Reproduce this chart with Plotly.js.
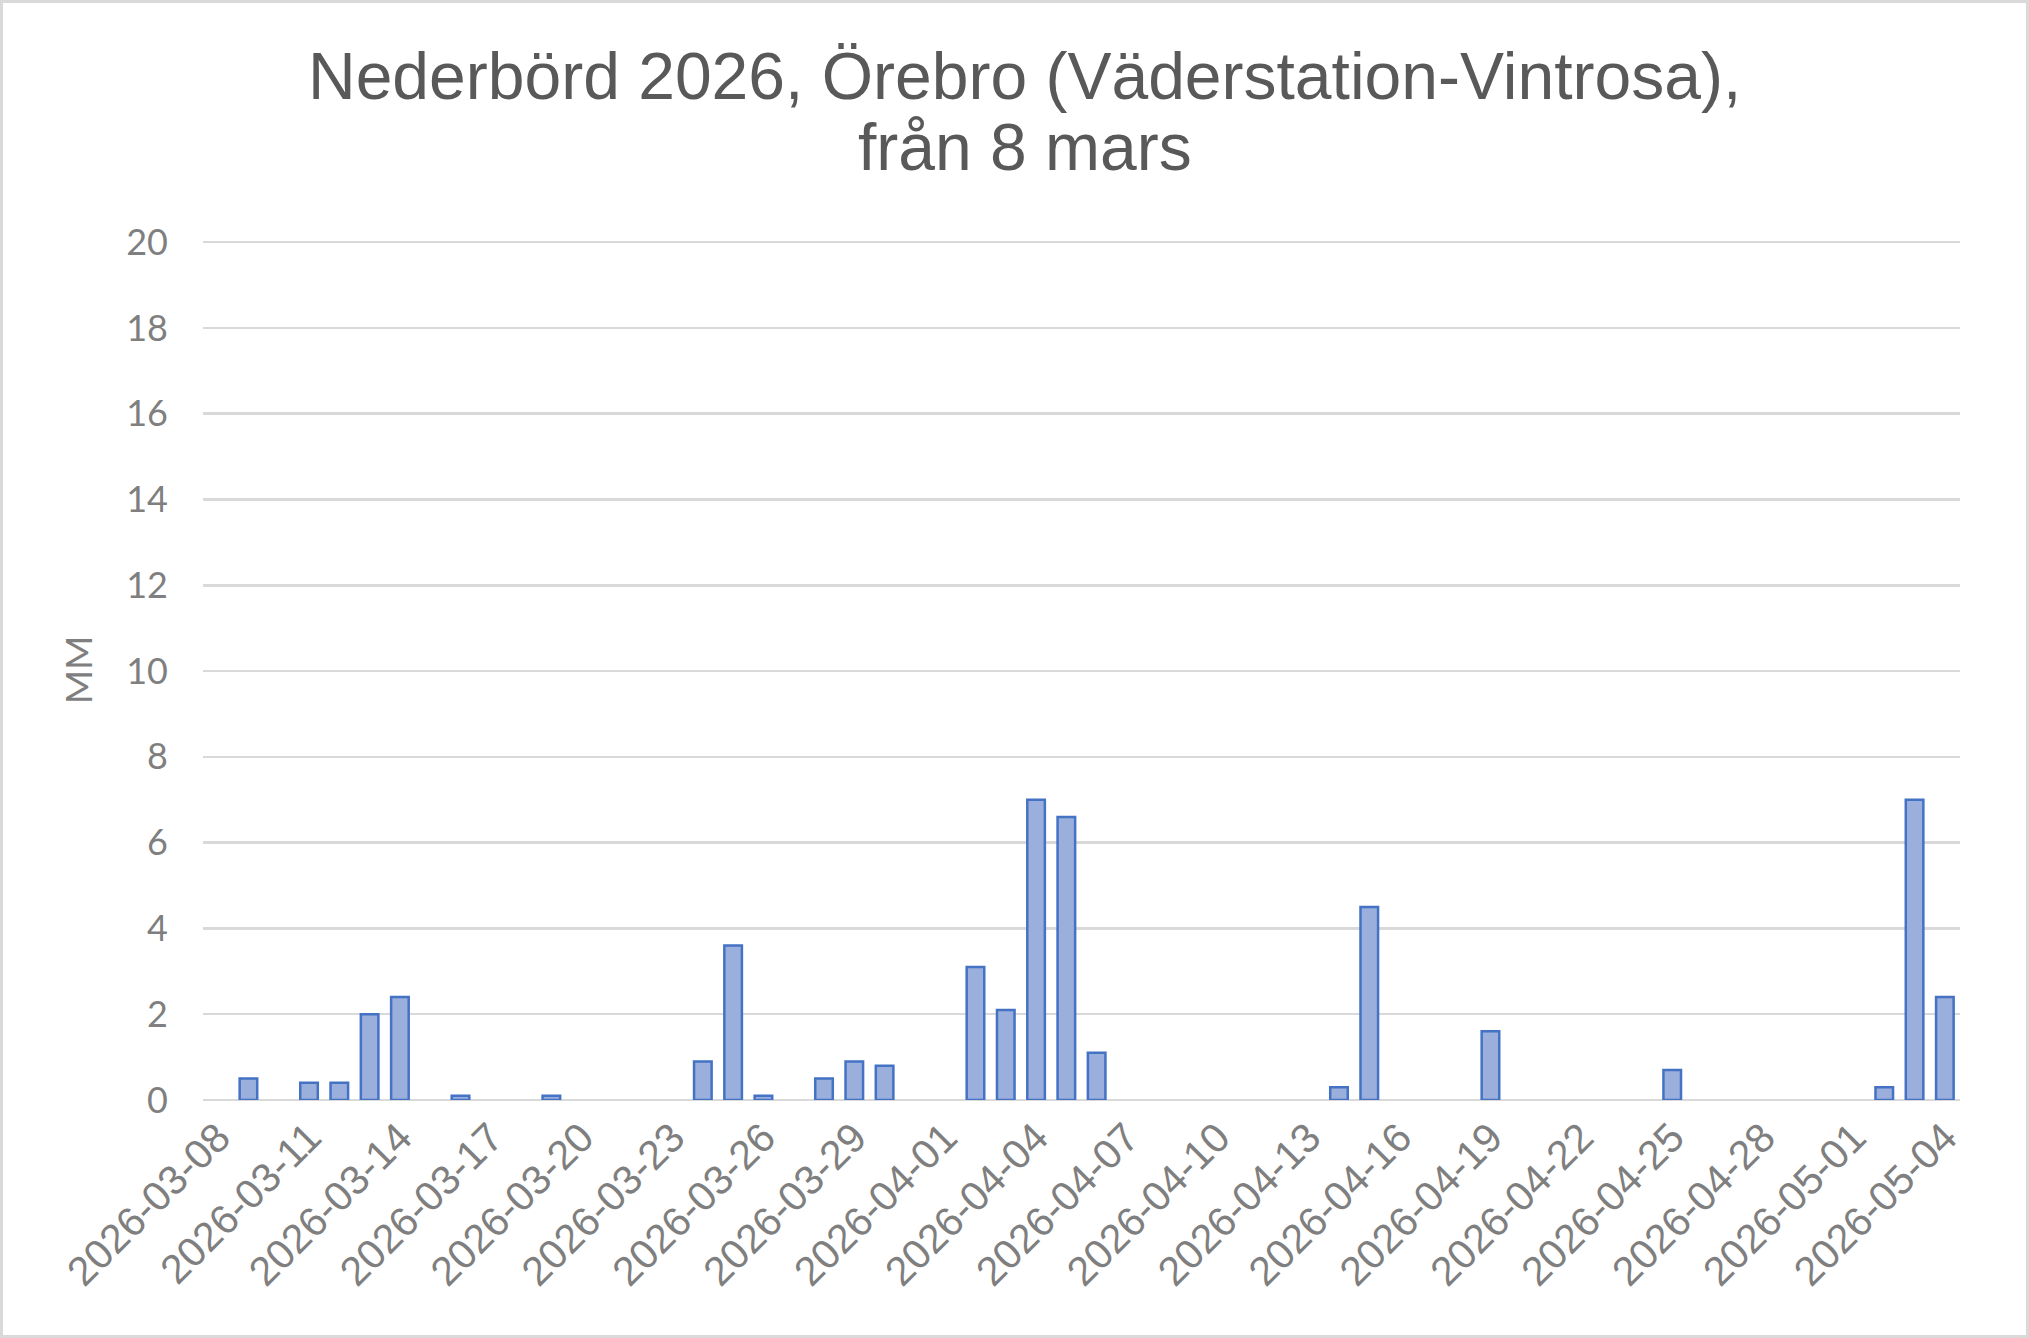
<!DOCTYPE html>
<html>
<head>
<meta charset="utf-8">
<script src="https://cdn.plot.ly/plotly-3.0.1.min.js"></script>
<style>
  body { margin: 0; background: #fff; }
  #myDiv { width: 2029px; height: 1338px; box-sizing: border-box; border: 3px solid #d9d9d9; }
</style>
</head>
<body>
<div id="myDiv"></div>
<script>
// one entry per day, 8 mars - 4 maj
let dates = [
  '2026-03-08','2026-03-09','2026-03-10','2026-03-11','2026-03-12','2026-03-13','2026-03-14',
  '2026-03-15','2026-03-16','2026-03-17','2026-03-18','2026-03-19','2026-03-20','2026-03-21',
  '2026-03-22','2026-03-23','2026-03-24','2026-03-25','2026-03-26','2026-03-27','2026-03-28',
  '2026-03-29','2026-03-30','2026-03-31','2026-04-01','2026-04-02','2026-04-03','2026-04-04',
  '2026-04-05','2026-04-06','2026-04-07','2026-04-08','2026-04-09','2026-04-10','2026-04-11',
  '2026-04-12','2026-04-13','2026-04-14','2026-04-15','2026-04-16','2026-04-17','2026-04-18',
  '2026-04-19','2026-04-20','2026-04-21','2026-04-22','2026-04-23','2026-04-24','2026-04-25',
  '2026-04-26','2026-04-27','2026-04-28','2026-04-29','2026-04-30','2026-05-01','2026-05-02',
  '2026-05-03','2026-05-04'
];

// nederbörd i mm
let rain = [
  0, 0.5, 0, 0.4, 0.4, 2.0, 2.4,
  0, 0.1, 0, 0, 0.1, 0, 0,
  0, 0, 0.9, 3.6, 0.1, 0, 0.5,
  0.9, 0.8, 0, 0, 3.1, 2.1, 7.0,
  6.6, 1.1, 0, 0, 0, 0, 0,
  0, 0, 0.3, 4.5, 0, 0, 0,
  1.6, 0, 0, 0, 0, 0, 0.7,
  0, 0, 0, 0, 0, 0, 0.3,
  7.0, 2.4
];

// every third date gets a label, like the original
let tickDates = dates.filter((d, i) => i % 3 === 0);

let titleFont = {family: 'Liberation Sans, Arial, sans-serif', size: 66, color: '#595959'};

let trace1 = {
  type: 'bar',
  x: dates,
  // dry days: no bar at all (otherwise the outline shows as a flat line)
  y: rain.map(v => v > 0 ? v : null),
  marker: {
    color: '#9bafdd',
    line: {color: '#4472c4', width: 2.5}
  },
  hoverinfo: 'x+y'
};

let layout = {
  width: 2023,
  height: 1332,
  margin: {l: 200, r: 66, t: 237, b: 235},
  paper_bgcolor: '#ffffff',
  plot_bgcolor: '#ffffff',
  showlegend: false,
  bargap: 0.42,
  // second title line as annotation, the <br> spacing is too loose
  title: {
    text: 'Nederbörd 2026, Örebro (Väderstation-Vintrosa),',
    font: titleFont,
    xref: 'container',
    x: 0.505,
    yref: 'container',
    y: 0.945,
    yanchor: 'middle'
  },
  annotations: [{
    text: 'från 8 mars',
    font: titleFont,
    xref: 'paper',
    yref: 'paper',
    x: 0.4678,
    y: 1.108,
    xanchor: 'center',
    yanchor: 'middle',
    showarrow: false
  }],
  xaxis: {
    type: 'category',
    tickmode: 'array',
    tickvals: tickDates,
    ticktext: tickDates,
    tickangle: -45,
    ticks: '',
    ticklabelstandoff: 4,
    tickfont: {family: 'Liberation Sans, Arial, sans-serif', size: 41, color: '#7f7f7f'},
    showgrid: false,
    showline: false,
    zeroline: false
  },
  yaxis: {
    range: [0, 20.05],
    tickvals: [0, 2, 4, 6, 8, 10, 12, 14, 16, 18, 20],
    ticks: '',
    ticklabelstandoff: 34,
    tickfont: {family: 'Lato, Calibri, sans-serif', size: 36, color: '#7f7f7f'},
    gridcolor: '#d9d9d9',
    gridwidth: 2.5,
    zeroline: true,
    zerolinecolor: '#d9d9d9',
    zerolinewidth: 2.5,
    showline: false,
    title: {
      text: 'MM',
      standoff: 22,
      font: {family: 'Lato, Calibri, sans-serif', size: 37, color: '#7f7f7f'}
    }
  }
};

Plotly.newPlot('myDiv', [trace1], layout, {displayModeBar: false, staticPlot: true});
</script>
</body>
</html>
